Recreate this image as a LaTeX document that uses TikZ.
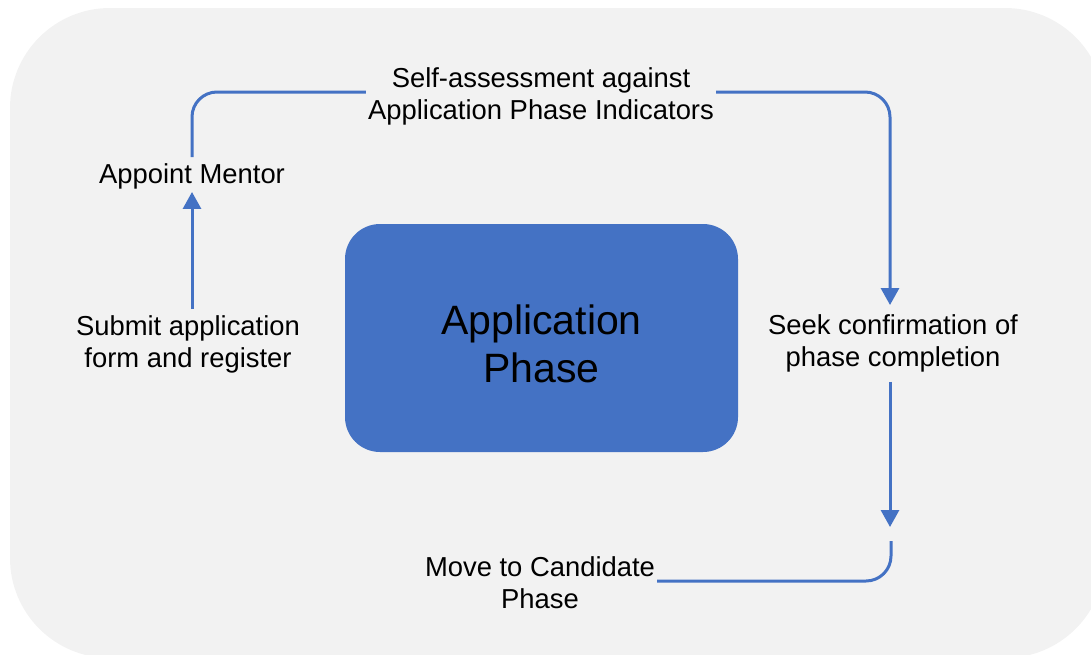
\documentclass[tikz,border=0pt]{standalone}
\usepackage{fontspec}
\setmainfont{Liberation Sans}
\usetikzlibrary{arrows.meta}

\definecolor{flowblue}{HTML}{4472C4}
\definecolor{panelgrey}{HTML}{F2F2F2}

\begin{document}
\begin{tikzpicture}[x=1pt,y=-1pt]
          \useasboundingbox (0,0) rectangle (1091,654);
          \begin{scope}
            \clip (0,0) rectangle (1091,654);
            \fill[panelgrey,rounded corners=100pt] (10,8) rectangle (1105,658);
          \end{scope}

          \node (phase) [fill=flowblue,rounded corners=35pt,minimum width=393pt,minimum height=228pt] at (541.5,338) {};
          \node (phasetitle) [align=center,font=\fontsize{41}{48}\selectfont] at (541.5,344) {Application\\Phase};

          \begin{scope}[every node/.style={align=center,inner sep=2pt,font=\fontsize{27.4}{32}\selectfont}]
            \node (submit) at (188,344) {Submit application\\form and register};
            \node (mentor) at (192,176) {Appoint Mentor};
            \node (selfassess) at (541,96) {Self-assessment against\\Application Phase Indicators};
            \node (seek) at (893,343) {Seek confirmation of\\phase completion};
            \node (move) at (540,583) {Move to Candidate\\Phase};
          \end{scope}

          \coordinate (gaptop) at (890,527);
          \coordinate (gapbot) at (891,541);

          \begin{scope}[flowblue,line width=3pt,rounded corners=25pt,-{Triangle[width=18pt,length=17pt]}]
            \draw ([yshift=4pt]mentor.south |- submit.north) -- ([yshift=-1pt]mentor.south);
            \draw[-] ([yshift=4pt]mentor.north) |- ([yshift=4pt]selfassess.west);
            \draw ([yshift=4pt]selfassess.east) -| ([xshift=-3pt,yshift=7pt]seek.north);
            \draw[shorten <=8pt] ([xshift=-3pt]seek.south) -- (gaptop);
            \draw[-] (gapbot) |- ([yshift=2pt]move.east);
          \end{scope}
        \end{tikzpicture}
\end{document}
